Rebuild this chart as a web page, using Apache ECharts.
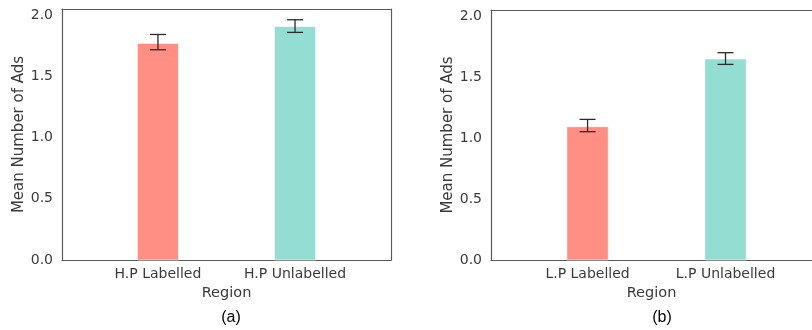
<!DOCTYPE html>
<html>
<head>
<meta charset="utf-8">
<script src="https://cdn.jsdelivr.net/npm/echarts@6/dist/echarts.min.js"></script>
<style>
  html, body { margin: 0; padding: 0; background: #fff; }
  #chart { width: 812px; height: 330px; }
</style>
</head>
<body>
<div id="chart"></div>
<script>
// Panel (a): high-priority regions
const catsA = ['H.P Labelled', 'H.P Unlabelled'];
const meanA = [1.769, 1.907];
const lowA = [1.717, 1.859];
const highA = [1.842, 1.962];

// Panel (b): low-priority regions
const catsB = ['L.P Labelled', 'L.P Unlabelled'];
const meanB = [1.093, 1.648];
const lowB = [1.052, 1.604];
const highB = [1.153, 1.700];

const barColors = ['#ff8f85', '#94ddd3'];
const yTicks = [0, 0.5, 1.0, 1.5, 2.0];

const chartDom = document.getElementById('chart');
const myChart = echarts.init(chartDom);

const txt = '#3a3a3a';
const font = 'DejaVu Sans';
const spine = { show: true, onZero: false, lineStyle: { color: '#5a5a5a', width: 1.2 } };

// panel (b) is cut off by the figure edge, so its x range ends early
const xMax = [1.7, 1.627];

function xAxisFor(idx, cats) {
    return {
        type: 'value',
        gridIndex: idx,
        min: -0.7,
        max: xMax[idx],
        name: 'Region',
        nameLocation: 'middle',
        nameGap: 26,
        nameTextStyle: { color: txt, fontSize: 14.5, fontFamily: font },
        axisLine: spine,
        axisTick: { show: false },
        splitLine: { show: false },
        axisLabel: {
            customValues: [0, 1],
            margin: 7,
            color: txt,
            fontSize: 14,
            fontFamily: font,
            formatter: function (v) { return cats[Math.round(v)]; }
        }
    };
}

function topAxisFor(idx) {
    return {
        type: 'value', gridIndex: idx, position: 'top', min: -0.7, max: xMax[idx],
        axisLine: spine, axisTick: { show: false }, axisLabel: { show: false }, splitLine: { show: false }
    };
}

function yAxisFor(idx) {
    return {
        type: 'value',
        gridIndex: idx,
        min: 0,
        max: 2.05,
        name: 'Mean Number of Ads',
        nameLocation: 'middle',
        nameGap: 35,
        nameTextStyle: { color: txt, fontSize: 15, fontFamily: font },
        axisLine: spine,
        axisTick: { show: false },
        splitLine: { show: false },
        axisLabel: {
            customValues: yTicks,
            margin: 9,
            color: txt,
            fontSize: 14,
            fontFamily: font,
            formatter: function (v) { return v.toFixed(1); }
        }
    };
}

function rightAxisFor(idx, showLine) {
    return {
        type: 'value', gridIndex: idx, position: 'right', min: 0, max: 2.05,
        axisLine: Object.assign({}, spine, { show: showLine }),
        axisTick: { show: false }, axisLabel: { show: false }, splitLine: { show: false }
    };
}

function barSeries(idx, means) {
    return {
        type: 'custom',
        xAxisIndex: idx,
        yAxisIndex: idx,
        data: means.map(function (m, i) { return [i, m]; }),
        renderItem: function (params, api) {
            const x = api.value(0);
            const y = api.value(1);
            const p0 = api.coord([x - 0.15, 0]);
            const p1 = api.coord([x + 0.15, y]);
            return {
                type: 'rect',
                shape: { x: p0[0], y: p1[1], width: p1[0] - p0[0], height: p0[1] - p1[1] },
                style: { fill: barColors[params.dataIndex], stroke: 'rgba(255,255,255,0.6)', lineWidth: 1 }
            };
        },
        z: 2
    };
}

function errSeries(idx, low, high) {
    return {
        type: 'custom',
        xAxisIndex: idx,
        yAxisIndex: idx,
        data: low.map(function (l, i) { return [i, l, high[i]]; }),
        renderItem: function (params, api) {
            const x = api.value(0);
            const lo = api.coord([x, api.value(1)]);
            const hi = api.coord([x, api.value(2)]);
            const cap = 8;
            const st = { stroke: '#2b2b2b', lineWidth: 1.3 };
            return {
                type: 'group',
                children: [
                    { type: 'line', shape: { x1: lo[0], y1: lo[1], x2: hi[0], y2: hi[1] }, style: st },
                    { type: 'line', shape: { x1: lo[0] - cap, y1: lo[1], x2: lo[0] + cap, y2: lo[1] }, style: st },
                    { type: 'line', shape: { x1: hi[0] - cap, y1: hi[1], x2: hi[0] + cap, y2: hi[1] }, style: st }
                ]
            };
        },
        z: 3
    };
}

const option = {
    animation: false,
    title: [
        { text: '(a)', left: 226, top: 305, textAlign: 'center',
          textStyle: { fontFamily: 'Liberation Sans', fontSize: 16, fontWeight: 'normal', color: '#000' } },
        { text: '(b)', left: 657, top: 305, textAlign: 'center',
          textStyle: { fontFamily: 'Liberation Sans', fontSize: 16, fontWeight: 'normal', color: '#000' } }
    ],
    grid: [
        { left: 62, top: 9, right: 421, bottom: 70 },
        { left: 491, top: 10, right: 0, bottom: 70 }
    ],
    xAxis: [xAxisFor(0, catsA), xAxisFor(1, catsB), topAxisFor(0), topAxisFor(1)],
    yAxis: [yAxisFor(0), yAxisFor(1), rightAxisFor(0, true), rightAxisFor(1, false)],
    series: [
        barSeries(0, meanA),
        errSeries(0, lowA, highA),
        barSeries(1, meanB),
        errSeries(1, lowB, highB)
    ]
};

myChart.setOption(option);
window.addEventListener('resize', function () { myChart.resize(); });
</script>
</body>
</html>
